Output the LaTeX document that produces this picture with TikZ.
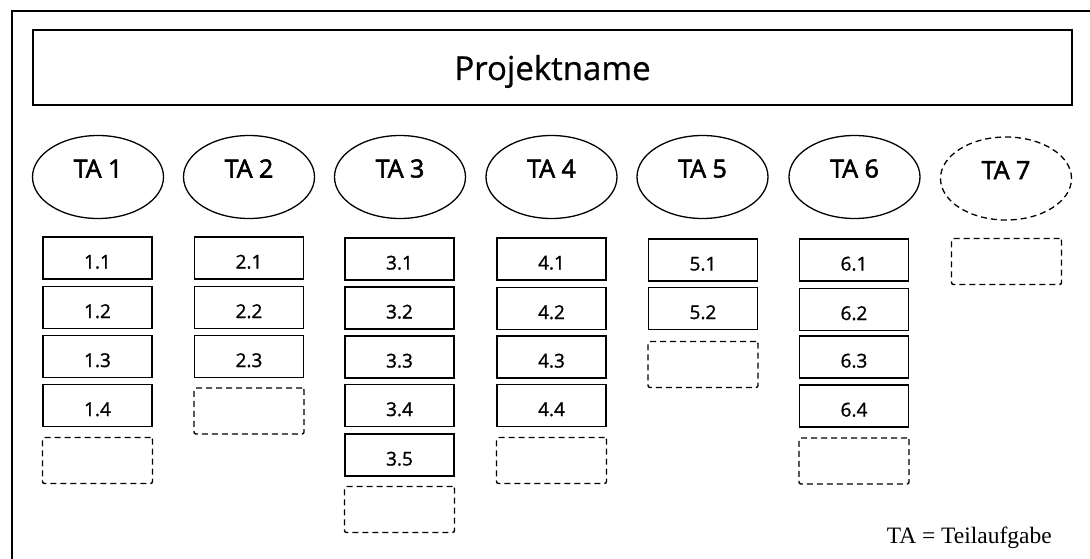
\documentclass[tikz,border=0pt]{standalone}
\usepackage{fontspec}
\setmainfont{Open Sans}
\newfontfamily\titlefont[FakeBold=0.8]{Open Sans}
\newfontfamily\tafont[FakeBold=2.2]{Open Sans}
\newfontfamily\numfont[FakeBold=1.2]{Open Sans}
\newfontfamily\legendfont{Liberation Serif}
\usetikzlibrary{shapes.geometric}
\begin{document}
\begin{tikzpicture}[x=1pt,y=-1pt,
  frameline/.style={line width=1.8pt},
  titlebox/.style={draw,line width=1.6pt,minimum width=1039pt,minimum height=75pt,inner sep=0pt,outer sep=0pt,
    text height=27pt,text depth=2pt,font=\titlefont\fontsize{33}{38}\selectfont},
  taell/.style={draw,ellipse,line width=1.3pt,minimum width=131pt,minimum height=83pt,inner sep=0pt,
    text height=18pt,text depth=17pt,font=\tafont\fontsize{25}{28}\selectfont},
  taelldash/.style={taell,dashed,dash pattern=on 6pt off 4pt},
  task/.style={draw,line width=1.7pt,minimum width=109pt,minimum height=42pt,inner sep=0pt,outer sep=0pt,
    text height=21pt,text depth=0pt,font=\numfont\fontsize{19}{22}\selectfont},
  emptytask/.style={draw,line width=1.4pt,dash pattern=on 6pt off 4pt,rounded corners=2pt,minimum width=110pt,minimum height=46pt,inner sep=0pt,outer sep=0pt},
  legend/.style={font=\legendfont\fontsize{23.5}{27}\selectfont,inner sep=0pt,anchor=base east}
]
\useasboundingbox (0,0) rectangle (1090,559);
% outer frame (cropped)
\coordinate (fTL) at (12,11);
\coordinate (fBL) at (12,559);
\coordinate (fTR) at (1090,11);
\draw[frameline] (fBL) -- (fTL) -- (fTR);
% title
\node[titlebox] (title) at (552.5,67.5) {Projektname};
% ellipses
\node[taell] (ta1) at (98,177) {TA 1};
\node[taell] (ta2) at (249,177) {TA 2};
\node[taell] (ta3) at (400,177) {TA 3};
\node[taell] (ta4) at (551.5,177) {TA 4};
\node[taell] (ta5) at (702.5,177) {TA 5};
\node[taell] (ta6) at (854.5,177) {TA 6};
\node[taelldash] (ta7) at (1006,178.5) {TA 7};
% column 1
\node[task] (t11) at (97.5,258) {1.1};
\node[task] (t12) at (97.5,307.5) {1.2};
\node[task] (t13) at (97.5,356.5) {1.3};
\node[task] (t14) at (97.5,405.5) {1.4};
\node[emptytask] (e1) at (97.5,460.5) {};
% column 2
\node[task] (t21) at (249,258) {2.1};
\node[task] (t22) at (249,307.5) {2.2};
\node[task] (t23) at (249,356.5) {2.3};
\node[emptytask] (e2) at (249,411) {};
% column 3
\node[task] (t31) at (399.5,259) {3.1};
\node[task] (t32) at (399.5,308) {3.2};
\node[task] (t33) at (399.5,357) {3.3};
\node[task] (t34) at (399.5,405.5) {3.4};
\node[task] (t35) at (399.5,455) {3.5};
\node[emptytask] (e3) at (399.5,509.5) {};
% column 4
\node[task] (t41) at (551.5,259) {4.1};
\node[task] (t42) at (551.5,308.5) {4.2};
\node[task] (t43) at (551.5,357) {4.3};
\node[task] (t44) at (551.5,405.5) {4.4};
\node[emptytask] (e4) at (551.5,460.5) {};
% column 5
\node[task] (t51) at (703,260) {5.1};
\node[task] (t52) at (703,308.5) {5.2};
\node[emptytask] (e5) at (703,364.5) {};
% column 6
\node[task] (t61) at (854,260) {6.1};
\node[task] (t62) at (854,309.5) {6.2};
\node[task] (t63) at (854,357) {6.3};
\node[task] (t64) at (854,406) {6.4};
\node[emptytask] (e6) at (854,461) {};
% column 7
\node[emptytask] (e7) at (1006.5,261.5) {};
% legend
\node[legend] (leg) at (1052,543) {TA = Teilaufgabe};
\end{tikzpicture}
\end{document}
